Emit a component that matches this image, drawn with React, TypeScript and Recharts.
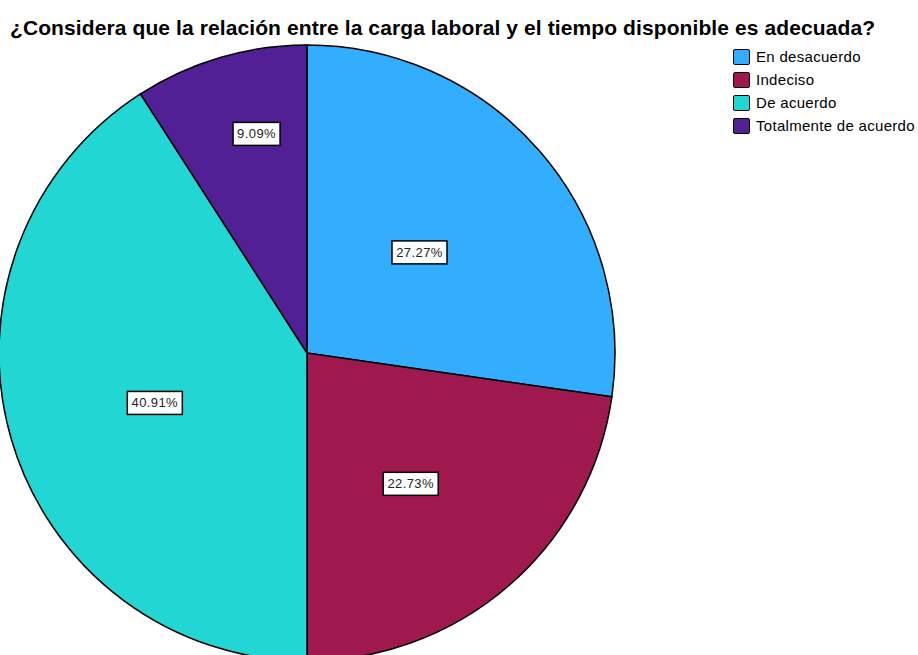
import React from "react";
import { PieChart, Pie, Cell, Legend } from "recharts";

const categories = ["En desacuerdo", "Indeciso", "De acuerdo", "Totalmente de acuerdo"];
const counts = [6, 5, 9, 2];
const percentLabels = ["27.27%", "22.73%", "40.91%", "9.09%"];
const colors = ["#33AEFF", "#A0194E", "#22D6D4", "#512094"];
const title = "¿Considera que la relación entre la carga laboral y el tiempo disponible es adecuada?";

// label placement (styling): radius factor and angle nudge in degrees (clockwise)
const labelRadiusFactor = [0.49, 0.542, 0.52, 0.73];
const labelAngleNudge = [-0.9, 2.5, -1.8, 3.4];

const data = categories.map((name, i) => ({ name, value: counts[i], label: percentLabels[i] }));

const RAD = Math.PI / 180;
const FONT = "'Liberation Sans', Arial, sans-serif";

const renderLabel = (props: any) => {
  const { cx, cy, midAngle, outerRadius, index } = props;
  const r = outerRadius * labelRadiusFactor[index];
  const theta = (90 - midAngle + labelAngleNudge[index]) * RAD;
  const x = cx + r * Math.sin(theta);
  const y = cy - r * Math.cos(theta);
  const text = data[index].label;
  const w = text.length * 8 + 7;
  const h = 23;
  return (
    <g>
      <rect x={x - w / 2} y={y - h / 2} width={w} height={h} fill="#fff" stroke="#000" strokeWidth={1.5} />
      <text x={x} y={y + 1} textAnchor="middle" dominantBaseline="middle" fontFamily={FONT} fontSize={13} letterSpacing={0.4} fill="#222">
        {text}
      </text>
    </g>
  );
};

const LegendContent = () => (
  <div style={{ fontFamily: FONT, fontSize: 15, color: "#000" }}>
    {data.map((d, i) => (
      <div key={d.name} style={{ display: "flex", alignItems: "center", height: 23 }}>
        <div style={{ width: 17, height: 16, background: colors[i], border: "1.5px solid #000", borderRadius: 2, marginRight: 6, boxSizing: "border-box", flexShrink: 0 }} />
        <span style={{ letterSpacing: 0.3, whiteSpace: "nowrap" }}>{d.name}</span>
      </div>
    ))}
  </div>
);

export default function App() {
  return (
    <div style={{ position: "absolute", left: 0, top: 0, width: 918, height: 655, background: "#fff", overflow: "hidden" }}>
      <div
        style={{
          position: "absolute",
          left: 10,
          top: 16,
          fontFamily: FONT,
          fontWeight: "bold",
          fontSize: 21,
          lineHeight: "24px",
          letterSpacing: 0.1,
          color: "#000",
          whiteSpace: "nowrap",
          zIndex: 2,
        }}
      >
        {title}
      </div>
      <PieChart width={918} height={655} margin={{ top: 0, right: 0, bottom: 0, left: 0 }}>
        <Pie
          data={data}
          dataKey="value"
          nameKey="name"
          cx={307}
          cy={353}
          outerRadius={308}
          startAngle={90}
          endAngle={-270}
          stroke="#000"
          strokeWidth={1.5}
          label={renderLabel}
          labelLine={false}
          isAnimationActive={false}
        >
          {data.map((d, i) => (
            <Cell key={d.name} fill={colors[i]} />
          ))}
        </Pie>
        <Legend
          content={<LegendContent />}
          layout="vertical"
          verticalAlign="top"
          align="right"
          wrapperStyle={{ position: "absolute", left: 733, top: 45, width: 185 }}
        />
      </PieChart>
    </div>
  );
}
